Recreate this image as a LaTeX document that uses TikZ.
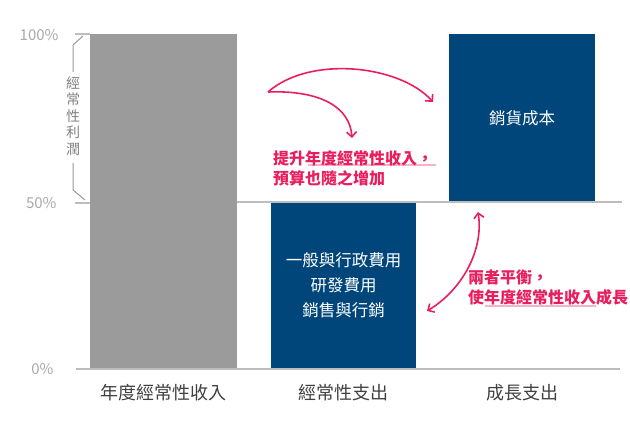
\documentclass[tikz,border=0pt]{standalone}
\usepackage{fontspec}
\setmainfont{Noto Sans CJK TC}
\usetikzlibrary{arrows.meta}
\definecolor{bargray}{HTML}{9A9B9A}
\definecolor{barblue}{HTML}{00467A}
\definecolor{axisgray}{HTML}{BDBDBD}
\definecolor{pctgray}{HTML}{A8A8A8}
\definecolor{hotpink}{HTML}{E91E5E}
\definecolor{softpink}{HTML}{F5B3C7}
\tikzset{
  bar/.style={anchor=north west, inner sep=0pt, text=white, align=center,
    font=\fontsize{16.5}{25}\selectfont},
  pct/.style={anchor=east, text=pctgray, font=\fontsize{15}{15}\selectfont},
  catlabel/.style={text=black!75, font=\fontsize{18}{18}\selectfont},
  note/.style={anchor=west, align=left, text=hotpink, inner sep=0pt,
    font=\fontsize{16}{20}\selectfont\bfseries},
  pinkarrow/.style={hotpink, line width=1.6pt, -{Straight Barb[length=5pt,width=10pt]}},
}
\begin{document}
\begin{tikzpicture}[x=1pt,y=-1pt]
\useasboundingbox (0,0) rectangle (630,422);
% bars
\node[bar, fill=bargray, minimum width=147pt, minimum height=335pt] (revenue) at (90,34) {};
\node[bar, fill=barblue, minimum width=145pt, minimum height=167pt] (opex) at (271,202)
  {一般與行政費用\\研發費用\\銷售與行銷};
\node[bar, fill=barblue, minimum width=146pt, minimum height=168pt] (cogs) at (449,34) {銷貨成本};
% axis and grid
\draw[axisgray, line width=1.2pt] (76,369) -- (620,369);
\draw[axisgray, line width=1.2pt] (revenue.east |- opex.north) -- (622,202);
\draw[axisgray, line width=1.2pt] (75,34) -- (revenue.north west);
\draw[axisgray, line width=1.2pt] (75,203) -- (90,203);
\node[pct] (p100) at (62,35) {100\%};
\node[pct] (p50) at (60,203) {50\%};
\node[pct] (p0) at (57,369) {0\%};
% profit bracket
\draw[axisgray!80!black, line width=1pt] (83,36) -- (73,45) -- (73,72);
\draw[axisgray!80!black, line width=1pt] (73,163) -- (73,190) -- (85,200);
\node[text=black!50, align=center, inner sep=0pt, font=\fontsize{14}{16.5}\selectfont]
  (profit) at (73,116) {經\\常\\性\\利\\潤};
% category labels
\node[catlabel] (lrevenue) at (revenue.center |- 0,393) {年度經常性收入};
\node[catlabel] (lopex) at (opex.center |- 0,393) {經常性支出};
\node[catlabel] (lgrowth) at (cogs.center |- 0,393) {成長支出};
% upper note
\coordinate (from) at (268,92);
\coordinate (tocogs) at (433,102);
\coordinate (tonote) at (352,138);
\draw[pinkarrow] (from) .. controls (310,55) and (400,65) .. (tocogs);
\draw[pinkarrow] (from) .. controls (322,90) and (350,108) .. (tonote);
\draw[softpink, line width=1.2pt] (308,165) -- (436,165);
\node[note] (raise) at (273,168) {提升年度經常性收入，\\預算也隨之增加};
% lower note
\coordinate (top) at (478,212);
\coordinate (bottom) at (427,311);
\draw[pinkarrow, {Straight Barb[length=5pt,width=10pt]}-{Straight Barb[length=5pt,width=10pt]}]
  (top) .. controls (484,250) and (462,290) .. (bottom);
\draw[softpink, line width=1.2pt] (485,306) -- (596,306);
\node[note] (balance) at (468,288) {兩者平衡，\\使年度經常性收入成長};
\end{tikzpicture}
\end{document}
